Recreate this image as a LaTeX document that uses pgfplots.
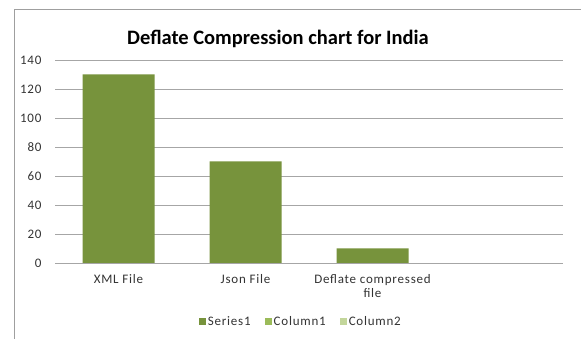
\documentclass[border=0pt]{standalone}
\usepackage{fontspec}
\setmainfont{Carlito}
\newfontfamily\spaced[LetterSpace=6]{Carlito}
\usepackage{pgfplots}
\pgfplotsset{compat=1.18}
\definecolor{s1}{HTML}{77933C}
\definecolor{c1}{HTML}{9BBB59}
\definecolor{c2}{HTML}{C3D69B}
\definecolor{gridc}{HTML}{A6A6A6}
\begin{document}
\begin{tikzpicture}[x=1pt,y=1pt]
\useasboundingbox (0,0) rectangle (581,339);
\fill[white] (0,0) rectangle (581,339);
\draw[gray!75, line width=1pt] (14.5,0) -- (14.5,329) -- (581,329);
\node[font=\fontsize{20.5}{24}\selectfont\bfseries, anchor=base] at (278,294) {Deflate Compression chart for India};
\begin{axis}[
  at={(55pt,76pt)}, anchor=south west,
  scale only axis, width=508pt, height=203pt,
  ymin=0, ymax=140, ytick={0,20,...,140},
  xmin=-0.5, xmax=3.5,
  xtick={0,1,2},
  xticklabels={XML File, Json File, {Deflate compressed\\file}},
  axis x line*=bottom, axis y line*=left,
  y axis line style={draw=none},
  x axis line style={draw=gridc, line width=0.8pt, -},
  major tick length=0pt,
  ymajorgrids, grid style={gridc, line width=0.6pt},
  /pgf/number format/assume math mode=true,
  tick label style={font=\spaced\fontsize{13}{14}\selectfont, text=black!80},
  yticklabel style={anchor=east, xshift=-10pt},
  xticklabel style={align=center, anchor=north, yshift=-8pt},
  ybar, bar width=72pt,
  legend style={at={(0.484,-0.29)}, anchor=center, draw=none, fill=none,
    legend columns=3, font=\spaced\fontsize{13}{14}\selectfont, text=black!80,
    /tikz/every even column/.append style={column sep=12pt}},
  legend image code/.code={\fill[#1] (0pt,-3.5pt) rectangle (7pt,3.5pt);},
]
\addplot[fill=s1, draw=none] coordinates {(0,130) (1,70) (2,10)};
\addlegendentry{Series1}
\addlegendimage{fill=c1, draw=none}
\addlegendentry{Column1}
\addlegendimage{fill=c2, draw=none}
\addlegendentry{Column2}
\end{axis}
\end{tikzpicture}
\end{document}
